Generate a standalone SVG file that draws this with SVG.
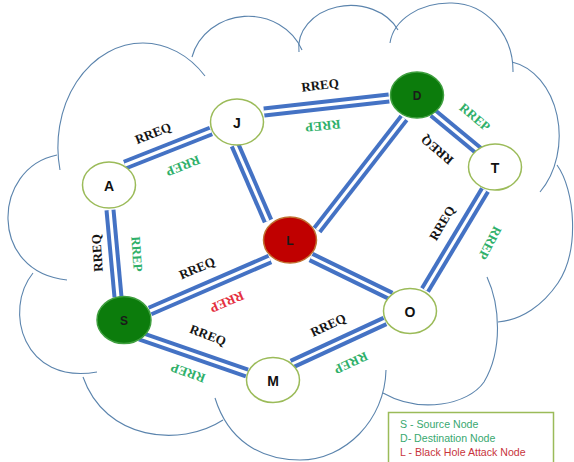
<svg xmlns="http://www.w3.org/2000/svg" width="574" height="462" viewBox="0 0 574 462">
<style>
.cloud{fill:none;stroke:#5b84ad;stroke-width:1.1}
.cb{stroke:#4472c4;stroke-width:11;fill:none}
.cw{stroke:#ffffff;stroke-width:3;fill:none}
.lb{font-family:"Liberation Serif","Times New Roman",serif;font-weight:bold;font-size:13px;text-anchor:middle;dominant-baseline:central}
.q{fill:#141414}
.p{fill:#2fb06a}
.pr{fill:#e4303f}
.node{fill:#ffffff;stroke:#9bbb59;stroke-width:1.5}
.green{fill:#0c7c0c;stroke:#3f9f3f;stroke-width:1.5}
.red{fill:#c00000;stroke:#c07030;stroke-width:1.5}
.nt{font-family:"Liberation Sans",Arial,sans-serif;font-weight:bold;font-size:14px;text-anchor:middle;dominant-baseline:central;fill:#111111}
.ns{font-size:12px;fill:#1a1a1a}
.lg{font-family:"Liberation Sans",Arial,sans-serif;font-size:10.6px}
</style>
<defs>
<path id="cAJ" d="M125,165 L211,131"/>
<path id="cJD" d="M264,112 L389,98"/>
<path id="cJL" d="M235,145 L268,221"/>
<path id="cDL" d="M404,118 L317,230"/>
<path id="cDT" d="M433,113 L479,151"/>
<path id="cTO" d="M485,190 L425,290"/>
<path id="cLO" d="M311,257 L391,296"/>
<path id="cAS" d="M110,210 L118,297"/>
<path id="cSL" d="M150,311 L270,259"/>
<path id="cSM" d="M140,336 L247,373"/>
<path id="cMO" d="M292,364 L385,321"/>
</defs>
<rect x="0" y="0" width="574" height="462" fill="#ffffff"/>
<g id="cloud" class="cloud">
<path d="M60,170 A85,104 0 0,1 143,43 A85,104 0 0,1 205,76"/>
<path d="M192,57 A58,54 0 0,1 302,50"/>
<path d="M299,52 A52,42 0 0,1 398,30"/>
<path d="M390,43 A60,45 0 0,1 452,3 A62,68 0 0,1 513,72"/>
<path d="M512,62 A57,75 0 0,1 540,192"/>
<path d="M557,165 C575,190 580,250 558,283 C543,305 522,320 498,322"/>
<path d="M487,277 C500,305 503,350 484,382 C468,405 420,414 383,393"/>
<path d="M386,370 C385,420 345,460 300,460 C260,460 228,440 215,398"/>
<path d="M223,420 C180,448 105,440 83,377"/>
<path d="M33,273 C3,310 23,385 97,372"/>
<path d="M57,155 C-8,168 -12,272 67,280"/>
</g>
<g id="connectors">
<g class="cb">
<use href="#cAJ"/><use href="#cJD"/><use href="#cJL"/><use href="#cDL"/><use href="#cDT"/><use href="#cTO"/><use href="#cLO"/><use href="#cAS"/><use href="#cSL"/><use href="#cSM"/><use href="#cMO"/>
</g>
<g class="cw">
<use href="#cAJ"/><use href="#cJD"/><use href="#cJL"/><use href="#cDL"/><use href="#cDT"/><use href="#cTO"/><use href="#cLO"/><use href="#cAS"/><use href="#cSL"/><use href="#cSM"/><use href="#cMO"/>
</g>
</g>
<g id="labels" class="lb">
<text class="q" transform="translate(153,133) rotate(-22)">RREQ</text>
<text class="p" transform="translate(183,166) rotate(158)">RREP</text>
<text class="q" transform="translate(320,85) rotate(-7)">RREQ</text>
<text class="p" transform="translate(323,126) rotate(174)">RREP</text>
<text class="p" transform="translate(475,117) rotate(40)">RREP</text>
<text class="q" transform="translate(437,150) rotate(220)">RREQ</text>
<text class="q" transform="translate(442,223) rotate(-59)">RREQ</text>
<text class="p" transform="translate(490,243) rotate(118)">RREP</text>
<text class="q" transform="translate(97,253) rotate(-94)">RREQ</text>
<text class="p" transform="translate(137,254) rotate(86)">RREP</text>
<text class="q" transform="translate(197,268) rotate(-23)">RREQ</text>
<text class="pr" transform="translate(227,302) rotate(157)">RREP</text>
<text class="q" transform="translate(208,335) rotate(21)">RREQ</text>
<text class="p" transform="translate(188,373) rotate(200)">RREP</text>
<text class="q" transform="translate(328,325) rotate(-25)">RREQ</text>
<text class="p" transform="translate(351,363) rotate(155)">RREP</text>
</g>
<g id="node-A"><ellipse class="node" cx="109" cy="185" rx="26.5" ry="23"/><text class="nt" x="109" y="186">A</text></g>
<g id="node-J"><ellipse class="node" cx="237" cy="122" rx="26.5" ry="23"/><text class="nt" x="237" y="123">J</text></g>
<g id="node-D"><ellipse class="green" cx="417" cy="95" rx="26.5" ry="23"/><text class="nt ns" x="417" y="96">D</text></g>
<g id="node-T"><ellipse class="node" cx="495" cy="167" rx="26.5" ry="23"/><text class="nt" x="495" y="168">T</text></g>
<g id="node-L"><ellipse class="red" cx="290" cy="240" rx="26.5" ry="23"/><text class="nt ns" x="290" y="241">L</text></g>
<g id="node-S"><ellipse class="green" cx="124" cy="320" rx="27" ry="23.5"/><text class="nt ns" x="124" y="321">S</text></g>
<g id="node-M"><ellipse class="node" cx="273" cy="380" rx="26.5" ry="22.5"/><text class="nt" x="273" y="381">M</text></g>
<g id="node-O"><ellipse class="node" cx="410" cy="311" rx="26.5" ry="22.5"/><text class="nt" x="410" y="312">O</text></g>
<g id="legend">
<rect x="388.5" y="412.5" width="165" height="60" fill="#ffffff" stroke="#9bbb59" stroke-width="1.5"/>
<text class="lg" x="400" y="427.5" fill="#38a86f">S - Source Node</text>
<text class="lg" x="400" y="441.5" fill="#38a86f">D- Destination Node</text>
<text class="lg" x="400" y="455.5" fill="#c8343c">L - Black Hole Attack Node</text>
</g>
</svg>
